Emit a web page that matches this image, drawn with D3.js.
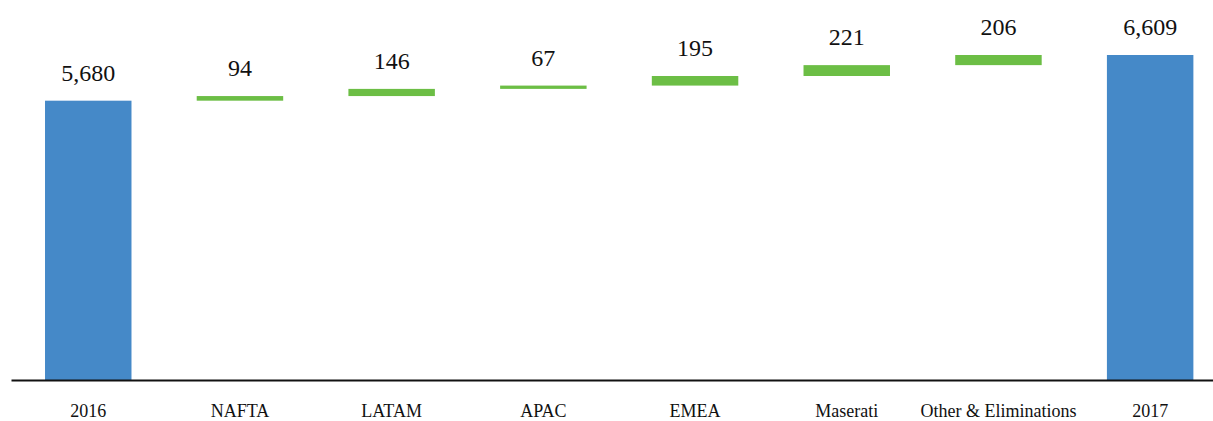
<!DOCTYPE html>
<html>
<head>
<meta charset="utf-8">
<script src="https://cdn.jsdelivr.net/npm/d3@7"></script>
<style>
  html, body { margin: 0; padding: 0; background: #fff; overflow: hidden; }
  svg { display: block; }
</style>
</head>
<body>
<svg id="chart" width="1213" height="421"></svg>
<script>
// Bridge of yearly totals by region
const categories = ["2016", "NAFTA", "LATAM", "APAC", "EMEA", "Maserati", "Other & Eliminations", "2017"];
const values     = [5680, 94, 146, 67, 195, 221, 206, 6609];
const kinds      = ["total", "delta", "delta", "delta", "delta", "delta", "delta", "total"];
const valueLabels = ["5,680", "94", "146", "67", "195", "221", "206", "6,609"];

const W = 1213, H = 421;
const baseY = 380;
const serif = "'Liberation Serif', 'Times New Roman', serif";

const svg = d3.select("#chart");

// compute start/end of each step
let running = 0;
const rows = categories.map((c, i) => {
  let y0, y1;
  if (kinds[i] === "total") { y0 = 0; y1 = values[i]; running = values[i]; }
  else { y0 = running; y1 = running + values[i]; running = y1; }
  return { cat: c, y0, y1, kind: kinds[i], label: valueLabels[i] };
});

const x = d3.scaleBand()
  .domain(categories)
  .range([12.4, 1226])
  .paddingInner(0.43)
  .paddingOuter(0.215);

const y = d3.scaleLinear()
  .domain([0, 6609])
  .range([baseY, 55]);

const colors = { total: "#4589c8", delta: "#6cbe45" };

svg.append("g").selectAll("rect")
  .data(rows)
  .join("rect")
  .attr("x", d => x(d.cat))
  .attr("width", x.bandwidth())
  .attr("y", d => y(Math.max(d.y0, d.y1)))
  .attr("height", d => Math.abs(y(d.y0) - y(d.y1)))
  .attr("fill", d => colors[d.kind]);

svg.append("g").selectAll("text")
  .data(rows)
  .join("text")
  .attr("x", d => x(d.cat) + x.bandwidth() / 2)
  .attr("y", d => y(Math.max(d.y0, d.y1)) - 20)
  .attr("text-anchor", "middle")
  .attr("font-family", serif)
  .attr("font-size", 24)
  .attr("fill", "#111")
  .text(d => d.label);

// baseline axis
const axis = svg.append("g")
  .attr("transform", `translate(0,${baseY + 0.5})`)
  .call(d3.axisBottom(x).tickSize(0).tickPadding(0));
axis.select(".domain")
  .attr("d", `M11.5,0H${W}`)
  .attr("stroke", "#111")
  .attr("stroke-width", 2);
axis.selectAll(".tick text")
  .attr("y", 36)
  .attr("dy", null)
  .attr("font-size", 18)
  .attr("font-family", serif)
  .attr("fill", "#111");
</script>
</body>
</html>
